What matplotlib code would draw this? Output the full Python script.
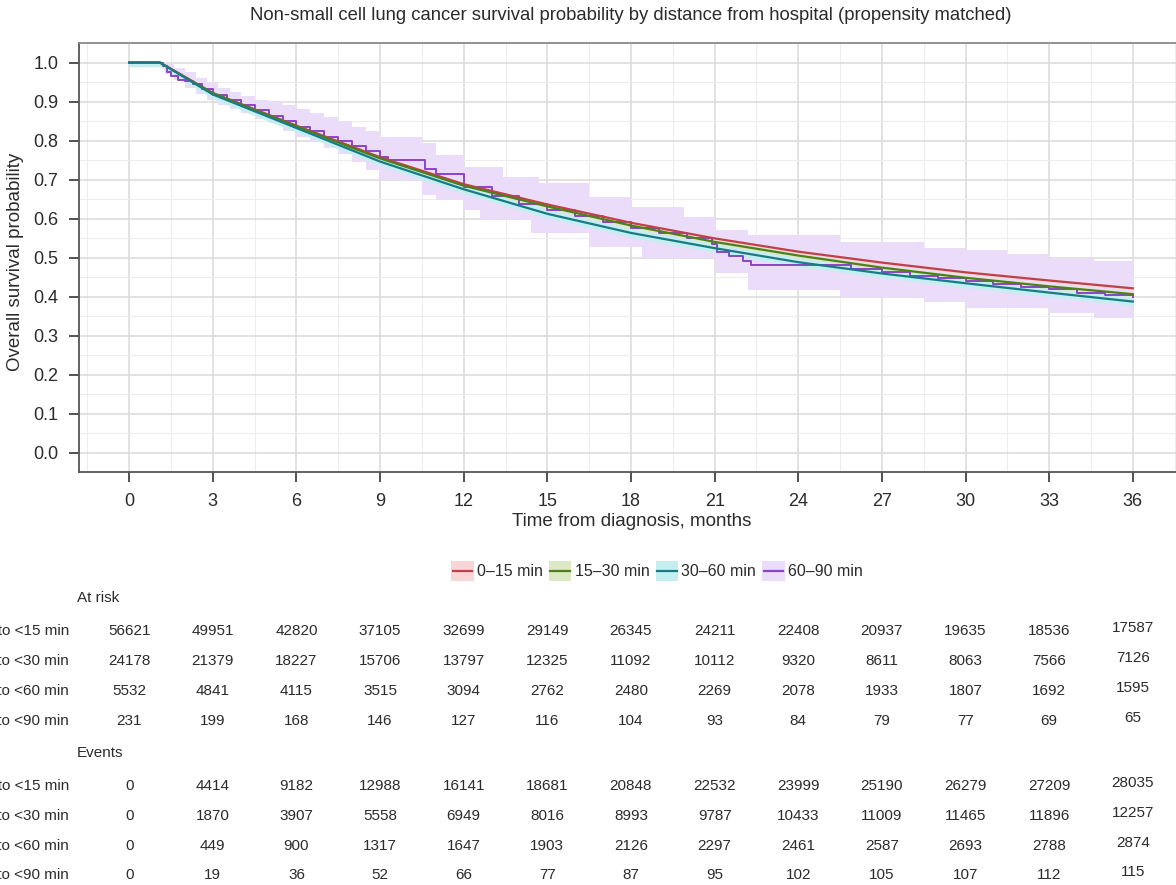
import matplotlib
matplotlib.use("Agg")
import matplotlib.pyplot as plt
from matplotlib.patches import Rectangle
from matplotlib.lines import Line2D
from matplotlib.transforms import blended_transform_factory
from matplotlib.legend_handler import HandlerBase

plt.rcParams['font.family'] = ['Liberation Sans', 'DejaVu Sans']

# survival curves (months, probability)
t_main = [0, 1.1, 3, 6, 9, 12, 15, 18, 21, 24, 27, 30, 33, 36]
s_0_15 = [1.0, 1.0, 0.922, 0.838, 0.757, 0.688, 0.636, 0.589, 0.549, 0.515, 0.487, 0.462, 0.441, 0.421]
s_15_30 = [1.0, 1.0, 0.921, 0.836, 0.754, 0.684, 0.631, 0.582, 0.540, 0.505, 0.474, 0.448, 0.426, 0.406]
s_30_60 = [1.0, 1.0, 0.918, 0.832, 0.746, 0.675, 0.612, 0.563, 0.524, 0.488, 0.459, 0.434, 0.410, 0.387]

t_60_90 = [0, 1.1, 1.2, 1.35, 1.5, 1.75, 2, 2.3, 2.6, 3, 3.5, 4, 4.5, 5, 5.5, 6, 6.5, 7, 7.5, 8,
           8.5, 9, 9.3, 10.5, 10.6, 11, 12, 13, 14, 15, 16, 17, 18, 19, 20, 20.9, 21.1, 21.5,
           22, 22.3, 25.8, 25.9, 27, 28, 29, 30, 31, 32, 33, 34, 35, 36]
s_60_90 = [1.0, 1.0, 0.99, 0.975, 0.965, 0.955, 0.952, 0.945, 0.932, 0.916, 0.903, 0.89, 0.878,
           0.864, 0.85, 0.835, 0.824, 0.81, 0.798, 0.785, 0.772, 0.758, 0.75, 0.75, 0.728, 0.715,
           0.681, 0.658, 0.638, 0.622, 0.606, 0.59, 0.575, 0.562, 0.549, 0.535, 0.515, 0.505,
           0.49, 0.48, 0.48, 0.47, 0.462, 0.453, 0.447, 0.44, 0.431, 0.424, 0.418, 0.41, 0.405, 0.40]

# confidence band of the 60-90 min group
t_band = [1.1, 1.3, 1.6, 2.0, 2.4, 2.8, 3.2, 3.6, 4.0, 4.5, 5.0, 5.5, 6.0, 6.5, 7.0, 7.5, 8.0,
          8.5, 9.0, 10.5, 11.0, 12.0, 12.6, 13.4, 14.4, 14.7, 16.5, 18.0, 18.4, 19.9, 21.0,
          22.2, 22.3, 25.4, 25.5, 28.5, 30.0, 31.5, 33.0, 34.6, 36.0]
lo_band = [0.99, 0.97, 0.955, 0.935, 0.92, 0.905, 0.89, 0.88, 0.87, 0.855, 0.845, 0.825, 0.81,
           0.795, 0.78, 0.765, 0.745, 0.725, 0.70, 0.66, 0.648, 0.622, 0.596, 0.596, 0.563,
           0.563, 0.527, 0.527, 0.498, 0.498, 0.46, 0.416, 0.416, 0.416, 0.40, 0.385, 0.37,
           0.37, 0.357, 0.344, 0.344]
hi_band = [1.0, 0.995, 0.985, 0.975, 0.96, 0.95, 0.935, 0.925, 0.915, 0.905, 0.90, 0.89, 0.88,
           0.87, 0.86, 0.85, 0.835, 0.825, 0.81, 0.794, 0.763, 0.733, 0.733, 0.707, 0.707, 0.69,
           0.656, 0.63, 0.63, 0.604, 0.57, 0.558, 0.558, 0.558, 0.54, 0.524, 0.52, 0.51, 0.50,
           0.49, 0.485]

groups = ["0\u201315 min", "15\u201330 min", "30\u201360 min", "60\u201390 min"]
row_labels = ["0 to <15 min", "15 to <30 min", "30 to <60 min", "60 to <90 min"]
table_times = [0, 3, 6, 9, 12, 15, 18, 21, 24, 27, 30, 33, 36]

at_risk = [
    [56621, 49951, 42820, 37105, 32699, 29149, 26345, 24211, 22408, 20937, 19635, 18536, 17587],
    [24178, 21379, 18227, 15706, 13797, 12325, 11092, 10112, 9320, 8611, 8063, 7566, 7126],
    [5532, 4841, 4115, 3515, 3094, 2762, 2480, 2269, 2078, 1933, 1807, 1692, 1595],
    [231, 199, 168, 146, 127, 116, 104, 93, 84, 79, 77, 69, 65],
]
events = [
    [0, 4414, 9182, 12988, 16141, 18681, 20848, 22532, 23999, 25190, 26279, 27209, 28035],
    [0, 1870, 3907, 5558, 6949, 8016, 8993, 9787, 10433, 11009, 11465, 11896, 12257],
    [0, 449, 900, 1317, 1647, 1903, 2126, 2297, 2461, 2587, 2693, 2788, 2874],
    [0, 19, 36, 52, 66, 77, 87, 95, 102, 105, 107, 112, 115],
]

line_colors = ["#C0404A", "#4E7F1A", "#1A7A84", "#8B44C8"]
fill_colors = ["#F8D6D8", "#DDE8C4", "#C4EEF0", "#EBDDFA"]

W, H = 1176, 885
fig = plt.figure(figsize=(W / 100, H / 100), dpi=100)
ax = fig.add_axes([79 / W, 1 - 472 / H, 1104 / W, (472 - 43) / H])

# purple band (wide), narrow bands for others
ax.fill_between(t_band, lo_band, hi_band, step="post", color=fill_colors[3], lw=0, zorder=1)
main = [s_0_15, s_15_30, s_30_60]
widths = [0.004, 0.006, 0.011]
for s, w, fc in zip(main, widths, fill_colors[:3]):
    ax.fill_between(t_main, [v - w for v in s], [min(1.0, v + w) for v in s],
                    color=fc, lw=0, zorder=2)

ax.step(t_60_90, s_60_90, where="post", color=line_colors[3], lw=1.4, zorder=3)
for s, c in zip(main, line_colors[:3]):
    ax.plot(t_main, s, color=c, lw=1.6, zorder=4)

ax.set_xlim(-1.8, 37.8)
ax.set_ylim(-0.05, 1.05)
ax.set_xticks(table_times)
ax.set_xticks([x + 1.5 for x in range(-3, 37, 3)], minor=True)
ax.set_yticks([i / 10 for i in range(11)])
ax.set_yticklabels([f"{i / 10:.1f}" for i in range(11)])
ax.set_yticks([i / 10 + 0.05 for i in range(-1, 11)], minor=True)
ax.grid(which="major", color="#DADADA", lw=1.1)
ax.grid(which="minor", color="#EDEDED", lw=0.8)
ax.set_axisbelow(True)
ax.tick_params(which="major", direction="out", length=7, width=1.3, color="#444444",
               labelsize=13, labelcolor="#2b2b2b", pad=8)
ax.tick_params(which="minor", length=0)
for side in ["left", "bottom"]:
    ax.spines[side].set_color("#555555")
    ax.spines[side].set_linewidth(1.3)
ax.spines["top"].set_color("#8a8a8a")
ax.spines["top"].set_linewidth(1.3)
ax.spines["right"].set_visible(False)

fig.text(631 / W, 1 - 16 / H,
         "Non-small cell lung cancer survival probability by distance from hospital (propensity matched)",
         ha="center", va="center", fontsize=13.3, color="#2b2b2b")
fig.text(632 / W, 1 - 521 / H, "Time from diagnosis, months", ha="center", va="center",
         fontsize=13.5, color="#2b2b2b")
fig.text(16 / W, 1 - 262 / H, "Overall survival probability", ha="center", va="center",
         rotation=90, fontsize=13.5, color="#2b2b2b")


class BoxLine(HandlerBase):
    def create_artists(self, legend, orig, xd, yd, width, height, fontsize, trans):
        fc, lc = orig
        r = Rectangle((xd, yd - 3), width, height + 6, facecolor=fc, edgecolor="none",
                      transform=trans)
        ln = Line2D([xd + 1, xd + width - 1], [yd + height / 2] * 2, color=lc, lw=1.6,
                    transform=trans)
        return [r, ln]


handles = list(zip(fill_colors, line_colors))
leg = fig.legend(handles, groups, handler_map={tuple: BoxLine()}, loc="center",
                 bbox_to_anchor=(657 / W, 1 - 572 / H), ncol=4, frameon=False,
                 fontsize=11.5, handlelength=1.4, handletextpad=0.2, columnspacing=0.4,
                 labelcolor="#2b2b2b")

tr = blended_transform_factory(ax.transData, fig.transFigure)
tc = "#2b2b2b"
fs = 11
fig.text(77 / W, 1 - 598 / H, "At risk", ha="left", va="center", fontsize=fs, color=tc)
fig.text(77 / W, 1 - 753 / H, "Events", ha="left", va="center", fontsize=fs, color=tc)
risk_y = [631, 661, 691, 721]
event_y = [786, 816, 846, 875]
for rows, ys in [(at_risk, risk_y), (events, event_y)]:
    for lab, vals, y in zip(row_labels, rows, ys):
        fig.text(69 / W, 1 - y / H, lab, ha="right", va="center", fontsize=fs, color=tc)
        for t, v in zip(table_times, vals):
            dy = -3 if t == 36 else 0
            fig.text(t, 1 - (y + dy) / H, str(v), transform=tr, ha="center", va="center",
                     fontsize=fs, color=tc)

fig.savefig("out.png", dpi=100)
